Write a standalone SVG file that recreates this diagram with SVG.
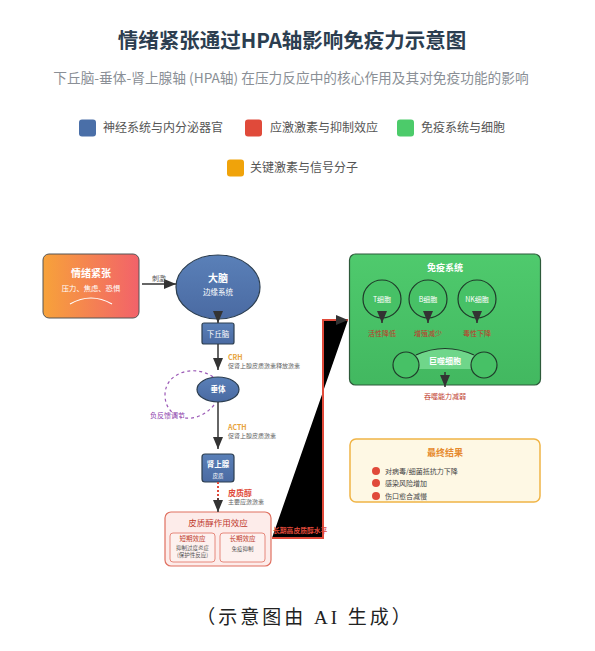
<svg xmlns="http://www.w3.org/2000/svg" width="595" height="651" viewBox="0 0 595 651">
<defs>
<linearGradient id="gEmo" x1="0" y1="0" x2="1" y2="0"><stop offset="0" stop-color="#f7a23a"/><stop offset="1" stop-color="#f2626a"/></linearGradient>
<linearGradient id="gBlue" x1="0" y1="0" x2="0" y2="1"><stop offset="0" stop-color="#5a80b8"/><stop offset="1" stop-color="#4a6aa2"/></linearGradient>
<linearGradient id="gGreen" x1="0" y1="0" x2="0" y2="1"><stop offset="0" stop-color="#4fca6d"/><stop offset="1" stop-color="#42b860"/></linearGradient>
<marker id="ah" viewBox="0 0 12 10" refX="12" refY="5" markerWidth="12" markerHeight="10" markerUnits="userSpaceOnUse" orient="auto"><path d="M0,0 L12,5 L0,10 z" fill="#333"/></marker>
<style>
text{font-family:"Noto Sans CJK SC","Liberation Sans",sans-serif;}
.c{text-anchor:middle;}
.w{fill:#fff;}
.b{font-weight:bold;}
.blue{fill:url(#gBlue);stroke:#2c3e50;stroke-width:1.2;}
.cell{fill:#47c166;stroke:#1f3b2a;stroke-width:1.2;}
.ln{stroke:#333;stroke-width:1.5;fill:none;}
.red7{fill:#c0392b;font-size:7px;}
.gray6{fill:#666;font-size:6px;}
.org{fill:#e8a33a;font-size:7px;font-weight:bold;}
.leg{font-size:12px;fill:#555;}
</style>
</defs>
<rect width="595" height="651" fill="#fff"/>

<text x="292" y="48" class="c b" style="font-size:20.5px;fill:#2c3e50">情绪紧张通过HPA轴影响免疫力示意图</text>
<text x="291" y="83" class="c" style="font-size:13.7px;fill:#8a8f96">下丘脑-垂体-肾上腺轴 (HPA轴) 在压力反应中的核心作用及其对免疫功能的影响</text>

<g id="legend">
<rect x="79" y="119.5" width="17" height="17" rx="3" fill="#4a6fa8"/><text x="103" y="132" class="leg">神经系统与内分泌器官</text>
<rect x="245" y="119.5" width="17" height="17" rx="3" fill="#e04a3a"/><text x="270" y="132" class="leg">应激激素与抑制效应</text>
<rect x="397" y="119.5" width="17" height="17" rx="3" fill="#4ccb6a"/><text x="421" y="132" class="leg">免疫系统与细胞</text>
<rect x="227" y="159.5" width="17" height="17" rx="3" fill="#f0a30a"/><text x="250" y="172" class="leg">关键激素与信号分子</text>
</g>

<g id="emotion">
<rect x="43" y="254" width="96" height="64" rx="6" fill="url(#gEmo)" stroke="#555" stroke-width="1"/>
<text x="91" y="277" class="c w b" style="font-size:10px">情绪紧张</text>
<text x="91" y="291" class="c w" style="font-size:7.3px">压力、焦虑、恐惧</text>
<path d="M70 304 Q91 292 112 304" fill="none" stroke="#fff" stroke-width="1.2"/>
</g>

<g id="brain">
<ellipse cx="218" cy="287" rx="42" ry="32" class="blue"/>
<text x="218" y="282" class="c w b" style="font-size:10px">大脑</text>
<text x="218" y="295" class="c w" style="font-size:7.5px">边缘系统</text>
</g>

<g id="hypothalamus">
<rect x="202" y="323" width="32" height="21" rx="2" class="blue"/>
<text x="218" y="336.5" class="c w" style="font-size:7.5px">下丘脑</text>
<text x="228" y="360" class="org">CRH</text>
<text x="228" y="368" class="gray6">促肾上腺皮质激素释放激素</text>
</g>

<g id="pituitary">
<ellipse cx="218" cy="389.5" rx="21" ry="12.5" class="blue"/>
<text x="218" y="392" class="c w b" style="font-size:7.5px">垂体</text>
<text x="150" y="418" style="font-size:7px;fill:#8e44ad">负反馈调节</text>
<text x="228" y="430" class="org">ACTH</text>
<text x="228" y="438" class="gray6">促肾上腺皮质激素</text>
</g>

<g id="adrenal">
<rect x="202" y="454" width="32" height="28" rx="3" class="blue"/>
<text x="218" y="467" class="c w b" style="font-size:7.5px">肾上腺</text>
<text x="218" y="478" class="c w" style="font-size:5.5px">皮质</text>
<text x="228" y="496" class="b" style="font-size:8px;fill:#e04a3a">皮质醇</text>
<text x="228" y="504" class="gray6">主要应激激素</text>
</g>

<g id="cortisol-effects">
<rect x="165" y="512" width="106" height="54" rx="6" fill="#fdecea" stroke="#e07060" stroke-width="1.2"/>
<text x="218" y="526" class="c" style="font-size:8.5px;fill:#c0392b">皮质醇作用效应</text>
<rect x="170" y="533" width="45" height="29" rx="3" fill="#fdf1ef" stroke="#e07060" stroke-width="0.8"/>
<text x="192.5" y="541" class="c" style="font-size:6.5px;fill:#c0392b">短期效应</text>
<text x="192.5" y="550" class="c" style="font-size:5.5px;fill:#555">抑制过度炎症</text>
<text x="192.5" y="557" class="c" style="font-size:5.5px;fill:#555">(保护性反应)</text>
<rect x="220" y="533" width="45" height="29" rx="3" fill="#fdf1ef" stroke="#e07060" stroke-width="0.8"/>
<text x="242.5" y="541" class="c" style="font-size:6.5px;fill:#c0392b">长期效应</text>
<text x="242.5" y="551" class="c" style="font-size:5.5px;fill:#555">免疫抑制</text>
</g>

<g id="immune-system">
<rect x="349.5" y="254" width="191" height="131" rx="6" fill="url(#gGreen)" stroke="#2d5a3a" stroke-width="1.2"/>
<text x="445" y="271" class="c w b" style="font-size:9px">免疫系统</text>
</g>
<g id="t-cell"><circle cx="382" cy="299" r="19" class="cell"/><text x="382" y="301.5" class="c w" style="font-size:7px">T细胞</text><text x="382" y="336" class="c red7">活性降低</text></g>
<g id="b-cell"><circle cx="428" cy="299" r="19" class="cell"/><text x="428" y="301.5" class="c w" style="font-size:7px">B细胞</text><text x="428" y="336" class="c red7">增殖减少</text></g>
<g id="nk-cell"><circle cx="477" cy="299" r="19" class="cell"/><text x="477" y="301.5" class="c w" style="font-size:7px">NK细胞</text><text x="477" y="336" class="c red7">毒性下降</text></g>
<g id="macrophage">
<path d="M416 355 Q445 342 474 355 L474 369 L416 369 Z" fill="#6fd68a"/>
<path d="M416 355 Q445 342 474 355" fill="none" stroke="#1f3b2a" stroke-width="1.2"/>
<circle cx="406" cy="365" r="13" class="cell"/>
<circle cx="484" cy="365" r="13" class="cell"/>
<text x="445" y="363.5" class="c w b" style="font-size:8px">巨噬细胞</text>
<text x="445" y="399" class="c red7">吞噬能力减弱</text>
</g>

<g id="final-result">
<rect x="350" y="439" width="190" height="63" rx="6" fill="#fef8e4" stroke="#f0b445" stroke-width="1.5"/>
<text x="445" y="456" class="c b" style="font-size:9px;fill:#e68a2e">最终结果</text>
<circle cx="376" cy="471" r="4" fill="#e04a3a"/><text x="385" y="473.5" style="font-size:7px;fill:#444">对病毒/细菌抵抗力下降</text>
<circle cx="376" cy="483" r="4" fill="#e04a3a"/><text x="385" y="485.5" style="font-size:7px;fill:#444">感染风险增加</text>
<circle cx="376" cy="496" r="4" fill="#e04a3a"/><text x="385" y="498.5" style="font-size:7px;fill:#444">伤口愈合减慢</text>
</g>

<g id="connectors">
<line x1="142" y1="284" x2="176" y2="284" class="ln" marker-end="url(#ah)"/>
<text x="159" y="281" class="c" style="font-size:7px;fill:#555">刺激</text>
<line x1="218" y1="312" x2="218" y2="323" class="ln" marker-end="url(#ah)"/>
<line x1="218" y1="344" x2="218" y2="370" class="ln" marker-end="url(#ah)"/>
<path d="M213 377 C195 364,165 372,165 395 C165 420,196 427,214 405" fill="none" stroke="#9b59b6" stroke-width="1.2" stroke-dasharray="3 3"/>
<line x1="218" y1="402" x2="218" y2="449" class="ln" marker-end="url(#ah)"/>
<line x1="218" y1="482" x2="218" y2="500" stroke="#e04a3a" stroke-width="2" stroke-dasharray="2 2"/>
<line x1="218" y1="498" x2="218" y2="512" class="ln" marker-end="url(#ah)"/>
<path d="M272 538 L323 538 L323 320 L348 320" fill="#000" stroke="#e04a3a" stroke-width="2" marker-end="url(#ah)"/>
<text x="273" y="533" class="b" style="font-size:6.8px;fill:#e04a3a">长期高皮质醇水平</text>
<line x1="382" y1="312" x2="382" y2="323" class="ln" marker-end="url(#ah)"/>
<line x1="428" y1="312" x2="428" y2="323" class="ln" marker-end="url(#ah)"/>
<line x1="477" y1="312" x2="477" y2="323" class="ln" marker-end="url(#ah)"/>
<line x1="445" y1="372" x2="445" y2="387" class="ln" marker-end="url(#ah)"/>
</g>

<text x="305" y="624" class="c" style="font-size:19px;letter-spacing:3px;fill:#222;font-family:'Liberation Serif','Noto Sans CJK SC',serif">（示意图由 AI 生成）</text>
</svg>
